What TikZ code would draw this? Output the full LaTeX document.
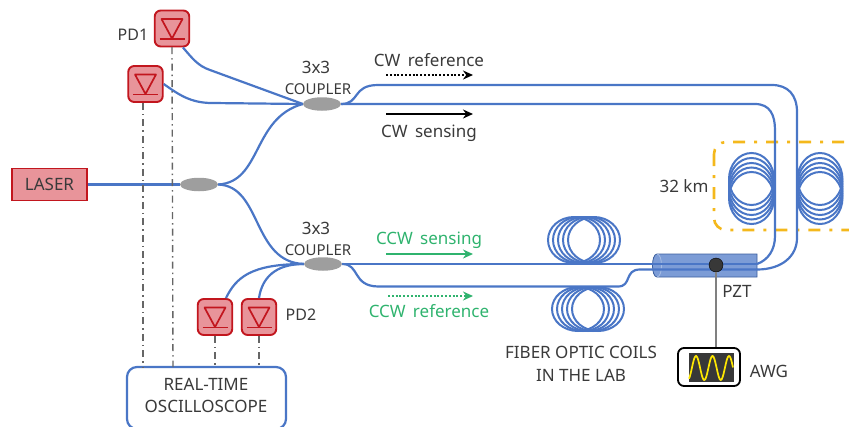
\documentclass[tikz,border=0pt]{standalone}
\usepackage{fontspec}
\setmainfont{Noto Sans}
\usetikzlibrary{arrows.meta,shapes.geometric}
\definecolor{fibre}{HTML}{4A76C6}
\definecolor{pdfill}{HTML}{E8949A}
\definecolor{pdline}{HTML}{C2161E}
\definecolor{cgreen}{HTML}{2FB36E}
\definecolor{ctext}{HTML}{3A3A3A}
\definecolor{cyellow}{HTML}{F4B81C}
\tikzset{
 x=1pt,y=-1pt,
 fib/.style={draw=fibre,line width=2.2pt},
 coil/.style={draw=fibre,line width=2pt},
 coupler/.style={ellipse,draw=none,fill=black!38,minimum width=38pt,minimum height=13.5pt,inner sep=0pt},
 pdbox/.style={draw=pdline,fill=pdfill,line width=1.9pt,rounded corners=6pt,minimum width=34.5pt,minimum height=36pt,inner sep=0pt},
 lbl/.style={text=ctext,font=\fontsize{17}{19}\selectfont,inner sep=0pt},
 pdlbl/.style={text=ctext,font=\fontsize{16}{19}\selectfont,inner sep=0pt},
 slbl/.style={text=ctext,font=\fontsize{15}{17}\selectfont,inner sep=0pt},
 glbl/.style={text=cgreen,font=\fontsize{17}{19}\selectfont,inner sep=0pt},
 probe/.style={draw=black!60,line width=1.4pt,dash pattern=on 7pt off 4pt on 1.5pt off 4pt},
 arr/.style={line width=1.9pt,-{Stealth[length=10pt,width=9pt]}},
 diode/.pic={
   \draw[pdline,line width=1.7pt,line join=round] (-10.5,-9.5) -- (10.5,-9.5) -- (0,10) -- cycle;
   \draw[pdline,line width=1.7pt] (-12.5,10.5) -- (12.5,10.5);
 }
}
\begin{document}
\begin{tikzpicture}
\useasboundingbox (0,0) rectangle (849,426);
\clip (0,0) rectangle (849,426);
% yellow frame
\draw[cyellow,line width=2.6pt,rounded corners=12pt,dash pattern=on 12pt off 9pt on 3pt off 9pt] (714,142) rectangle (870,230);
% coils
\foreach \y in {179,184,189,193.5,198} {
  \draw[coil] (751.5,\y) ellipse [x radius=22.5,y radius=26];
  \draw[coil] (820,\y) ellipse [x radius=22.5,y radius=26];
}
\foreach \x in {574,579,584,589,594} \draw[coil] (\x,240) ellipse [x radius=26,y radius=23];
\foreach \x in {578,583,588,593,598} \draw[coil] (\x,309) ellipse [x radius=26,y radius=22];
% nodes
\node[coupler] (split) at (199,184.5) {};
\node[coupler] (ctop) at (322,104) {};
\node[coupler] (cbot) at (323,264) {};
\node[draw=pdline,fill=pdfill,line width=1.9pt,minimum width=75pt,minimum height=32pt,inner sep=0pt,text=ctext,font=\fontsize{17}{19}\selectfont] (laser) at (49.5,184.5) {LASER};
\node[pdbox] (pda) at (172,28.5) {};
\node[pdbox] (pdb) at (145.5,84) {};
\node[pdbox] (pdc) at (215,317) {};
\node[pdbox] (pdd) at (259,317) {};
\pic at (pda.center) {diode};
\pic at (pdb.center) {diode};
\pic at (pdc.center) {diode};
\pic at (pdd.center) {diode};
\node[draw=fibre,line width=2.2pt,fill=white,rounded corners=10pt,minimum width=159pt,minimum height=62pt,inner sep=0pt] (scope) at (206.5,398) {};
\node[lbl] (t1) at (206,384) {REAL-TIME};
\node[lbl] (t2) at (206,406) {OSCILLOSCOPE};
% cylinder
\path[fill=fibre,fill opacity=.72,draw=fibre!80!black,line width=.8pt] (657,254) -- (757,254) -- (757,277) -- (657,277) .. controls (651,277) and (651,254) .. (657,254) -- cycle;
\draw[fibre!50,line width=.8pt] (657,254) .. controls (663,254) and (663,277) .. (657,277);
\coordinate (cylLa) at (653,264);
\coordinate (cylLb) at (653,269.5);
\coordinate (cylRa) at (757,264);
\coordinate (cylRb) at (757,269.5);
% fibres
\draw[fib] (laser.east) -- (split.west);
\draw[fib] (split.east) .. controls (262,182) and (252,118) .. (ctop.west);
\draw[fib] (split.east) .. controls (262,186) and (252,262) .. (cbot.west);
\draw[fib] (pda.-60) .. controls (192,58) and (198,66) .. (210,70) -- (ctop.west);
\draw[fib] (pdb.east) .. controls (178,94) and (190,103) .. (212,103) -- (ctop.west);
\draw[fib] (pdc.60) .. controls (236,278) and (250,264) .. (cbot.west);
\draw[fib] (pdd.north) .. controls (262,278) and (275,264) .. (cbot.west);
\draw[fib] (ctop.east) -- (755,104) .. controls (770,104) and (775,115) .. (775,130) -- (775,236) .. controls (775,250) and (768,260) .. (cylRa);
\draw[fib] (ctop.east) .. controls (360,104) and (352,85) .. (378,85) -- (772,85) .. controls (788,85) and (797,95) .. (797,112) -- (797,238) .. controls (797,256) and (782,269.5) .. (cylRb);
\draw[fib] (cbot.east) -- (cylLa) -- (cylRa);
\draw[fib] (cbot.east) .. controls (360,264) and (352,286) .. (378,286.5) -- (618,286.5) .. controls (632,286.5) and (624,269.5) .. (640,269.5) -- (cylLb) -- (cylRb);
% pzt
\node[circle,fill=black!78,draw=black,line width=.4pt,minimum size=14pt,inner sep=0pt] (pzt) at (716,265) {};
\node[draw=black,line width=1.8pt,fill=white,rounded corners=6pt,minimum width=62pt,minimum height=38pt,inner sep=0pt] (awg) at (709,367) {};
\draw[draw=black!50,line width=1.8pt] (pzt) -- (awg.north -| pzt);
\fill[black!78] (689,353) rectangle (734,382);
\draw[yellow!90!orange,line width=1.7pt,domain=689:733,samples=80,smooth] plot ({\x},{368-12*cos(360*(\x-696)/16.5)});
% probes
\coordinate (sa) at (173,367);
\coordinate (sb) at (143,367);
\draw[probe] (pda.south |- 0,47) -- (sa);
\draw[probe] (pdb.south) ++(-2.5,0) -- (sb);
\draw[probe] (pdc.south) -- (pdc.south |- scope.north);
\draw[probe] (pdd.south) -- (pdd.south |- scope.north);
% arrows
\coordinate (a1) at (386,75); \coordinate (a2) at (473,75);
\coordinate (b1) at (386,114); \coordinate (b2) at (473,114);
\coordinate (c1) at (386,254); \coordinate (c2) at (473,254);
\coordinate (d1) at (388,296); \coordinate (d2) at (473,296);
\draw[arr,black,dash pattern=on 1.9pt off 1.9pt] (a1) -- (a2);
\draw[arr,black] (b1) -- (b2);
\draw[arr,cgreen] (c1) -- (c2);
\draw[arr,cgreen,dash pattern=on 1.9pt off 1.9pt] (d1) -- (d2);
% labels
\node[pdlbl] (l1) at (133,35) {PD1};
\node[pdlbl] (l2) at (301,315) {PD2};
\node[lbl] (l3) at (316,67) {3x3};
\node[lbl] (l4) at (316,228) {3x3};
\node[slbl] (l5) at (318,89) {COUPLER};
\node[slbl] (l6) at (318,250) {COUPLER};
\node[lbl] (l7) at (429,60) {CW\, reference};
\node[lbl] (l8) at (429,133) {CW\, sensing};
\node[glbl] (l9) at (429,240) {CCW\, sensing};
\node[glbl] (l10) at (429,311) {CCW\, reference};
\node[lbl] (l11) at (684,186) {32 km};
\node[lbl] (l12) at (737,291) {PZT};
\node[lbl] (l13) at (581,352) {FIBER OPTIC COILS};
\node[lbl] (l14) at (581,375) {IN THE LAB};
\node[lbl] (l15) at (769,371) {AWG};
\end{tikzpicture}
\end{document}
